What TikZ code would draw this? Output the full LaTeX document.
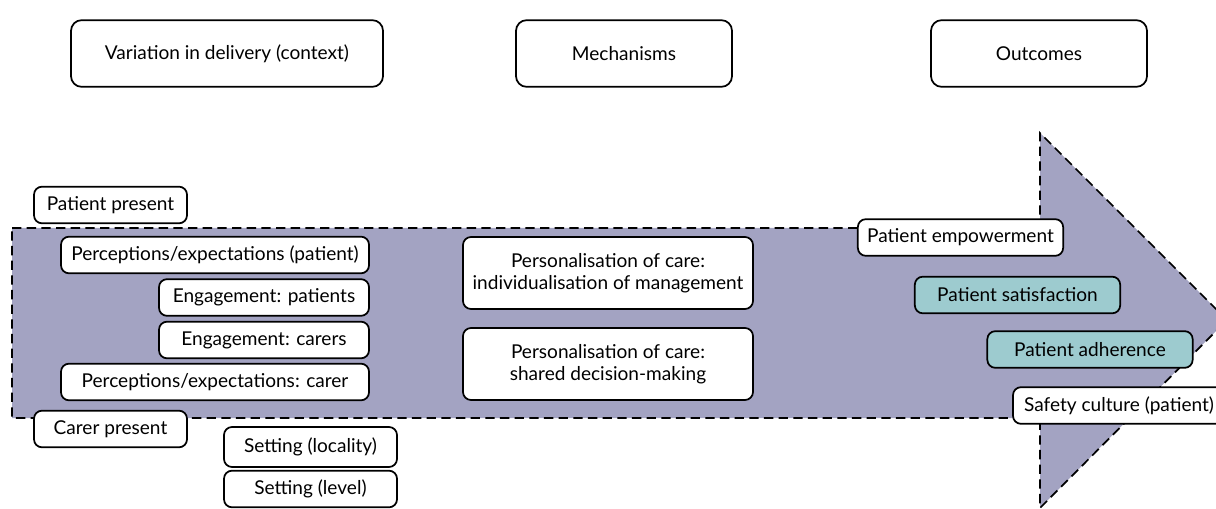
\documentclass[tikz,border=0pt]{standalone}
\usepackage{fontspec}
\setmainfont{Lato}
\usepackage{tikz}

\definecolor{arrowfill}{RGB}{163,163,194}
\definecolor{tealfill}{RGB}{157,203,207}

\begin{document}
\begin{tikzpicture}
[
x=0.75pt, y=-0.75pt,
every node/.style={font=\fontsize{14.3}{16.5}\selectfont},
box/.style={draw, line width=1.3pt, rounded corners=6pt, fill=white, inner sep=1pt, minimum height=27.5pt},
head/.style={draw, line width=1.3pt, rounded corners=8pt, minimum height=50pt},
mech/.style={box, minimum width=217.5pt, minimum height=54pt, align=center},
outc/.style={box, minimum width=154pt},
teal/.style={fill=tealfill}
]
\useasboundingbox (0,0) rectangle (1216,509);

% the big arrow
\fill[arrowfill] (12,228) -- (1040,228) -- (1040,133) -- (1227,320) -- (1040,508) -- (1040,418) -- (12,418) -- cycle;
\draw[line width=1.3pt, dash pattern=on 7pt off 4pt] (12,228) -- (1040,228) -- (1040,133) -- (1227,320) -- (1040,508) -- (1040,418) -- (12,418) -- cycle;

% headings
\node[head, minimum width=234pt] (context) at (227,53.5) {Variation in delivery (context)};
\node[head, minimum width=162pt] (mechanisms) at (624,53.5) {Mechanisms};
\node[head, minimum width=162pt] (outcomes) at (1039,53.5) {Outcomes};

% context
\node[box, minimum width=114.75pt] (patpres) at (110.5,205) {Patient present};
\node[box, minimum width=231pt] (percpat) at (215,255) {Perceptions/expectations (patient)};
\node[box, minimum width=157.5pt] (engpat) at (264,297.5) {Engagement: patients};
\node[box, minimum width=157.5pt] (engcar) at (264,340) {Engagement: carers};
\node[box, minimum width=231pt] (perccar) at (215,382) {Perceptions/expectations: carer};
\node[box, minimum width=114.75pt] (carpres) at (110.5,429) {Carer present};
\node[box, minimum width=129.75pt, minimum height=30pt] (setloc) at (310.5,447) {Setting (locality)};
\node[box, minimum width=129.75pt] (setlev) at (310.5,489) {Setting (level)};

% mechanisms
\node[mech] (persind) at (608,273) {Personalisation of care:\\individualisation of management};
\node[mech] (persshr) at (608,364) {Personalisation of care:\\shared decision-making};

% outcomes
\node[outc] (empower) at (960.5,237.5) {Patient empowerment};
\node[outc, teal] (satisf) at (1017.5,295) {Patient satisfaction};
\node[outc, teal] (adher) at (1090,349.5) {Patient adherence};
\node[box, minimum width=159pt] (safety) at (1119,405.5) {Safety culture (patient)};
\end{tikzpicture}
\end{document}
